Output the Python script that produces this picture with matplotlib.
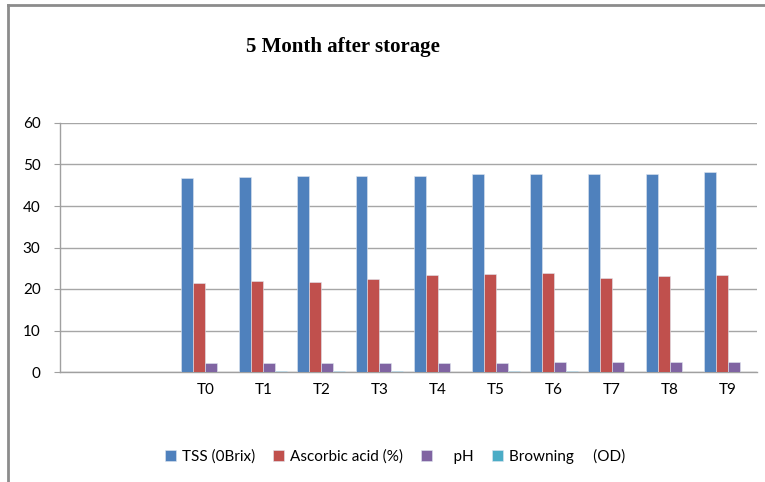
import matplotlib
matplotlib.use("Agg")
import matplotlib.pyplot as plt
import numpy as np
from matplotlib.lines import Line2D

# categories (two blank slots before T0, as in the original sheet)
categories = ["", "", "T0", "T1", "T2", "T3", "T4", "T5", "T6", "T7", "T8", "T9"]

tss = [0, 0, 46.8, 47.1, 47.3, 47.3, 47.3, 47.6, 47.8, 47.8, 47.8, 48.1]
ascorbic = [0, 0, 21.4, 21.9, 21.6, 22.3, 23.4, 23.7, 23.9, 22.7, 23.2, 23.4]
ph = [0, 0, 2.1, 2.1, 2.1, 2.1, 2.1, 2.1, 2.4, 2.4, 2.4, 2.4]
browning = [0, 0, 0, 0.25, 0.25, 0.25, 0, 0.25, 0.25, 0, 0, 0]

series = [("TSS (0Brix)", tss, "#4F81BD"),
          ("Ascorbic acid (%)", ascorbic, "#C0504D"),
          ("    pH", ph, "#8064A2"),
          ("Browning     (OD)", browning, "#4BACC6")]

fig = plt.figure(figsize=(7.65, 4.82), dpi=100)
ax = fig.add_axes([60/765, 1-372/482, 697/765, 249/482])

x = np.arange(len(categories))
w = 0.206
for i, (name, vals, col) in enumerate(series):
    ax.bar(x + (i - 1.5)*w, vals, width=w, color=col, label=name,
           edgecolor="#dfe6f0", linewidth=0.4, zorder=3)

ax.set_xlim(-0.5, len(categories) - 0.5)
ax.set_ylim(0, 60)
ax.set_yticks(range(0, 61, 10))
ax.set_xticks(x)
ax.set_xticklabels(categories)
ax.yaxis.grid(True, color="#a6a6a6", linewidth=1.0, zorder=0)
ax.set_axisbelow(True)
for s in ["top", "right"]:
    ax.spines[s].set_visible(False)
for s in ["left", "bottom"]:
    ax.spines[s].set_color("#a0a0a0")
    ax.spines[s].set_linewidth(1.0)
ax.tick_params(axis="x", length=0, pad=8, labelsize=11)
ax.tick_params(axis="y", length=4, color="#a0a0a0", pad=10, labelsize=11)
for lab in ax.get_xticklabels() + ax.get_yticklabels():
    lab.set_fontfamily("Lato")

fig.text(343/765, 1-47/482, "5 Month after storage", ha="center", va="center",
         fontsize=15, fontweight="bold", family="Liberation Serif")

leg = fig.legend(loc="center", bbox_to_anchor=(395/765, 1-456/482), ncol=4,
                 frameon=False, handlelength=0.7, handleheight=0.7,
                 handletextpad=0.4, columnspacing=1.2,
                 prop={"family": "Lato", "size": 11})

# outer chart border (top and left visible)
fig.add_artist(Line2D([8/765, 1], [1-5/482, 1-5/482], color="#8c8c8c", lw=2))
fig.add_artist(Line2D([8/765, 8/765], [0, 1-5/482], color="#8c8c8c", lw=2))

fig.savefig("out.png", dpi=100)
